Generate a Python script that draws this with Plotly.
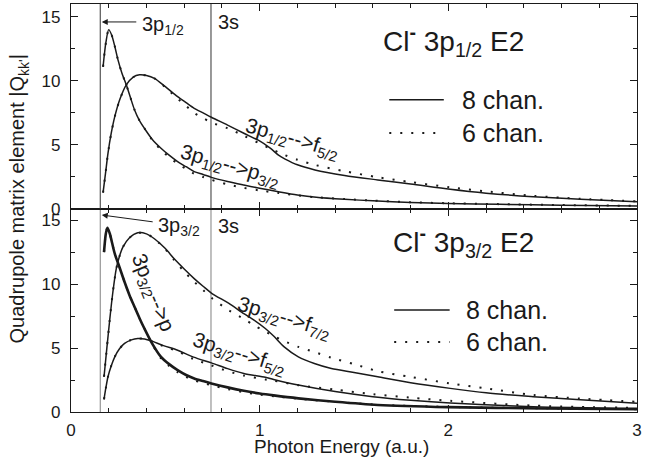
import plotly.graph_objects as go

# ---------------- data: |Q_kk'| vs photon energy (a.u.) ----------------
# Cl- 3p1/2 E2 panel
E_P12_P = [0.170, 0.185, 0.200, 0.215, 0.232, 0.249, 0.270, 0.293, 0.315, 0.337, 0.363, 0.389,
           0.430, 0.477, 0.520, 0.565, 0.610, 0.653, 0.700, 0.744, 0.830, 0.916, 1.000, 1.100,
           1.200, 1.300, 1.450, 1.600, 1.800, 2.000, 2.270, 2.600, 3.000]
Q_P12_P_8 = [11.1, 13.0, 14.0, 13.6, 12.7, 11.64, 10.6, 9.69, 8.7, 7.73, 6.9, 6.3,
             5.45, 4.74, 4.2, 3.7, 3.3, 2.92, 2.7, 2.47, 2.15, 1.875, 1.62, 1.35,
             1.1, 0.92, 0.76, 0.64, 0.51, 0.43, 0.37, 0.3, 0.23]
Q_P12_P_6 = [11.1, 13.0, 14.0, 13.6, 12.7, 11.64, 10.6, 9.69, 8.7, 7.73, 6.9, 6.3,
             5.4, 4.62, 4.05, 3.55, 3.12, 2.75, 2.5, 2.28, 1.92, 1.65, 1.45, 1.25,
             1.06, 0.92, 0.78, 0.66, 0.53, 0.45, 0.38, 0.31, 0.24]

E_P12_F = [0.170, 0.183, 0.196, 0.213, 0.232, 0.260, 0.293, 0.330, 0.363, 0.400, 0.442, 0.500,
           0.565, 0.610, 0.653, 0.700, 0.744, 0.830, 0.916, 0.995, 1.056, 1.100, 1.135, 1.200,
           1.293, 1.450, 1.626, 1.800, 2.010, 2.200, 2.450, 2.700, 3.000]
Q_P12_F_8 = [1.28, 2.8, 4.35, 5.9, 7.21, 8.6, 9.69, 10.3, 10.47, 10.42, 10.2, 9.55,
             8.77, 8.3, 7.86, 7.5, 7.16, 6.55, 5.91, 5.35, 4.75, 4.2, 3.9, 3.45,
             3.05, 2.62, 2.27, 1.95, 1.54, 1.24, 0.96, 0.76, 0.57]
Q_P12_F_6 = [1.28, 2.8, 4.35, 5.9, 7.21, 8.6, 9.69, 10.3, 10.47, 10.42, 10.2, 9.5,
             8.62, 8.05, 7.5, 7.1, 6.75, 6.3, 5.72, 5.15, 4.72, 4.42, 4.2, 3.85,
             3.44, 2.95, 2.48, 2.1, 1.69, 1.38, 1.03, 0.8, 0.6]

# Cl- 3p3/2 E2 panel
E_P32_P = [0.175, 0.185, 0.193, 0.205, 0.232, 0.258, 0.284, 0.310, 0.337, 0.363, 0.389, 0.425,
           0.477, 0.520, 0.565, 0.610, 0.653, 0.700, 0.744, 0.830, 0.916, 1.000, 1.074, 1.205,
           1.400, 1.626, 2.000, 2.500, 3.000]
Q_P32_P_8 = [12.52, 14.0, 14.43, 14.0, 12.4, 11.3, 10.18, 9.15, 8.23, 7.35, 6.54, 5.5,
             4.32, 3.75, 3.28, 2.9, 2.63, 2.42, 2.24, 1.93, 1.66, 1.45, 1.3, 1.07,
             0.8, 0.55, 0.38, 0.28, 0.21]
Q_P32_P_6 = [12.52, 14.0, 14.43, 14.0, 12.4, 11.3, 10.18, 9.15, 8.23, 7.35, 6.54, 5.45,
             4.2, 3.6, 3.12, 2.75, 2.48, 2.28, 2.1, 1.8, 1.55, 1.37, 1.24, 1.04,
             0.8, 0.57, 0.4, 0.29, 0.22]

E_P32_F7 = [0.175, 0.190, 0.205, 0.222, 0.240, 0.257, 0.275, 0.310, 0.354, 0.400, 0.442, 0.500,
            0.547, 0.600, 0.653, 0.700, 0.744, 0.837, 0.916, 0.970, 1.030, 1.074, 1.130, 1.205,
            1.290, 1.380, 1.500, 1.626, 1.800, 2.010, 2.200, 2.450, 2.700, 3.000]
Q_P32_F7_8 = [2.76, 5.0, 7.19, 9.4, 11.23, 12.2, 12.91, 13.65, 14.04, 13.95, 13.57, 12.8,
              12.0, 11.2, 10.45, 9.85, 9.32, 8.5, 7.71, 7.2, 6.54, 5.95, 5.1, 4.32,
              3.8, 3.41, 3.1, 2.76, 2.3, 1.85, 1.5, 1.2, 0.95, 0.68]
Q_P32_F7_6 = [2.76, 5.0, 7.19, 9.4, 11.23, 12.2, 12.91, 13.65, 14.04, 13.95, 13.57, 12.75,
              11.9, 11.0, 10.2, 9.55, 8.95, 7.97, 7.3, 6.8, 6.3, 5.95, 5.55, 5.1,
              4.7, 4.25, 3.75, 3.2, 2.75, 2.24, 1.85, 1.33, 1.05, 0.8]

E_P32_F5 = [0.175, 0.185, 0.196, 0.213, 0.232, 0.257, 0.284, 0.320, 0.354, 0.390, 0.425, 0.490,
            0.565, 0.650, 0.744, 0.830, 0.916, 1.030, 1.074, 1.205, 1.400, 1.600, 1.800, 2.010,
            2.450, 3.000]
Q_P32_F5_8 = [0.99, 1.9, 2.76, 3.6, 4.32, 4.95, 5.37, 5.65, 5.76, 5.72, 5.57, 5.2,
              4.84, 4.3, 3.85, 3.4, 3.02, 2.72, 2.55, 2.11, 1.6, 1.2, 0.92, 0.7,
              0.42, 0.29]
Q_P32_F5_6 = [0.99, 1.9, 2.76, 3.6, 4.32, 4.95, 5.37, 5.65, 5.76, 5.72, 5.57, 5.15,
              4.75, 4.15, 3.65, 3.2, 2.85, 2.55, 2.45, 2.1, 1.75, 1.4, 1.12, 0.88,
              0.5, 0.32]

# threshold energies marked by vertical lines
E_THRESH_3P = 0.155
E_THRESH_3S = 0.742

LEGEND_LABELS = ["8 chan.", "6 chan."]

FONT = "Liberation Sans, Arial, sans-serif"
INK = "#1a1a1a"
DOTS = "2px,9px"

fig = go.Figure()


def add_curve(xs, ys, ax, width=1.5, dotted=False):
    fig.add_trace(go.Scatter(
        x=xs, y=ys, mode="lines", xaxis=ax[0], yaxis=ax[1], showlegend=False,
        hoverinfo="skip",
        line=dict(color=INK, width=2 if dotted else width,
                  dash=DOTS if dotted else "solid", shape="spline", smoothing=0.8)))


top = ("x2", "y2")
bot = ("x", "y")

# threshold lines
for ax, col, ymax in ((top, "#333333", 16), (bot, "#808080", 15.9)):
    for e in (E_THRESH_3P, E_THRESH_3S):
        fig.add_trace(go.Scatter(x=[e, e], y=[0, ymax], mode="lines", xaxis=ax[0], yaxis=ax[1],
                                 showlegend=False, hoverinfo="skip",
                                 line=dict(color=col, width=1)))

# top panel curves
add_curve(E_P12_P, Q_P12_P_8, top)
add_curve(E_P12_P, Q_P12_P_6, top, dotted=True)
add_curve(E_P12_F, Q_P12_F_8, top)
add_curve(E_P12_F, Q_P12_F_6, top, dotted=True)

# bottom panel curves
add_curve(E_P32_P, Q_P32_P_8, bot, width=2.6)
add_curve(E_P32_P, Q_P32_P_6, bot, dotted=True)
add_curve(E_P32_F7, Q_P32_F7_8, bot)
add_curve(E_P32_F7, Q_P32_F7_6, bot, dotted=True)
add_curve(E_P32_F5, Q_P32_F5_8, bot)
add_curve(E_P32_F5, Q_P32_F5_6, bot, dotted=True)

axis_common = dict(
    showline=True, linecolor=INK, linewidth=1.2, mirror="ticks",
    ticks="inside", ticklen=7, tickwidth=1.2, tickcolor=INK,
    showgrid=False, zeroline=False,
    tickfont=dict(family=FONT, size=17, color=INK),
)

fig.update_layout(
    width=645, height=465,
    margin=dict(l=71, r=3, t=4, b=53),
    paper_bgcolor="white", plot_bgcolor="white",
    font=dict(family=FONT, color=INK),
    xaxis=dict(axis_common, domain=[0, 1], anchor="y", range=[0, 3], dtick=1,
               minor=dict(ticks="inside", ticklen=4, dtick=0.2, tickcolor=INK, tickwidth=1.2),
               ticklabelstandoff=2, ticklabeloverflow="allow"),
    xaxis2=dict(axis_common, domain=[0, 1], anchor="y2", range=[0, 3], dtick=1,
                matches="x", showticklabels=False,
                minor=dict(ticks="inside", ticklen=4, dtick=0.2, tickcolor=INK, tickwidth=1.2)),
    yaxis=dict(axis_common, domain=[0, 0.4975], anchor="x", range=[0, 15.9], dtick=5,
               minor=dict(ticks="inside", ticklen=4, dtick=2.5, tickcolor=INK, tickwidth=1.2),
               ticklabelstandoff=6),
    yaxis2=dict(axis_common, domain=[0.4975, 1], anchor="x2", range=[0, 16], dtick=5,
                minor=dict(ticks="inside", ticklen=4, dtick=2.5, tickcolor=INK, tickwidth=1.2),
                ticklabelstandoff=6),
)

ann = []


def text(x, y, s, ax, size=20, xanchor="left", angle=0):
    ann.append(dict(x=x, y=y, xref=ax[0], yref=ax[1], text=s, showarrow=False,
                    xanchor=xanchor, yanchor="middle", textangle=angle,
                    font=dict(family=FONT, size=size, color=INK)))


def arrow(x_head, y_head, x_tail, y_tail, ax):
    ann.append(dict(x=x_head, y=y_head, ax=x_tail, ay=y_tail, xref=ax[0], yref=ax[1],
                    axref=ax[0], ayref=ax[1], text="", showarrow=True,
                    arrowhead=2, arrowsize=1.2, arrowwidth=1, arrowcolor=INK))


# top panel labels
arrow(0.163, 14.6, 0.354, 14.6, top)
text(0.364, 14.3, "3p<sub>1/2</sub>", top)
text(0.767, 14.6, "3s", top)
text(0.841, 3.36, "3p<sub>1/2</sub>-->p<sub>3/2</sub>", top, size=21, xanchor="center", angle=16)
text(1.172, 5.47, "3p<sub>1/2</sub>-->f<sub>5/2</sub>", top, size=21, xanchor="center", angle=16)
text(2.03, 13.1, "Cl<sup><b>-</b></sup> 3p<sub>1/2</sub> E2", top, size=28, xanchor="center")

# bottom panel labels
arrow(0.163, 15.43, 0.441, 14.88, bot)
text(0.452, 14.5, "3p<sub>3/2</sub>", bot)
text(0.767, 14.57, "3s", bot)
text(0.43, 9.3, "3p<sub>3/2</sub>-->p", bot, size=21, xanchor="center", angle=68)
text(1.13, 7.36, "3p<sub>3/2</sub>-->f<sub>7/2</sub>", bot, size=21, xanchor="center", angle=17)
text(0.893, 4.54, "3p<sub>3/2</sub>-->f<sub>5/2</sub>", bot, size=21, xanchor="center", angle=17)
text(2.08, 13.3, "Cl<sup><b>-</b></sup> 3p<sub>3/2</sub> E2", bot, size=28, xanchor="center")

# legends drawn as line samples plus labels
shapes = []
for ax, x0, x1, xt, y8, y6 in ((top, 1.687, 1.976, 2.06, 8.52, 5.94),
                               (bot, 1.713, 2.007, 2.081, 7.99, 5.48)):
    shapes.append(dict(type="line", xref=ax[0], yref=ax[1], x0=x0, x1=x1, y0=y8, y1=y8,
                       line=dict(color=INK, width=1.5)))
    shapes.append(dict(type="line", xref=ax[0], yref=ax[1], x0=x0, x1=x1, y0=y6, y1=y6,
                       line=dict(color=INK, width=2, dash=DOTS)))
    text(xt, y8, LEGEND_LABELS[0], ax, size=25)
    text(xt, y6, LEGEND_LABELS[1], ax, size=25)

# axis titles
ann.append(dict(x=-0.0928, y=0.522, xref="paper", yref="paper", showarrow=False,
                text="Quadrupole matrix element |Q<sub>kk'</sub>|", textangle=-90,
                xanchor="center", yanchor="middle", font=dict(family=FONT, size=20, color=INK)))
ann.append(dict(x=0.478, y=-0.084, xref="paper", yref="paper", showarrow=False,
                text="Photon Energy (a.u.)", xanchor="center", yanchor="middle",
                font=dict(family=FONT, size=19, color=INK)))

fig.update_layout(annotations=ann, shapes=shapes)
fig.write_html("out.html")
